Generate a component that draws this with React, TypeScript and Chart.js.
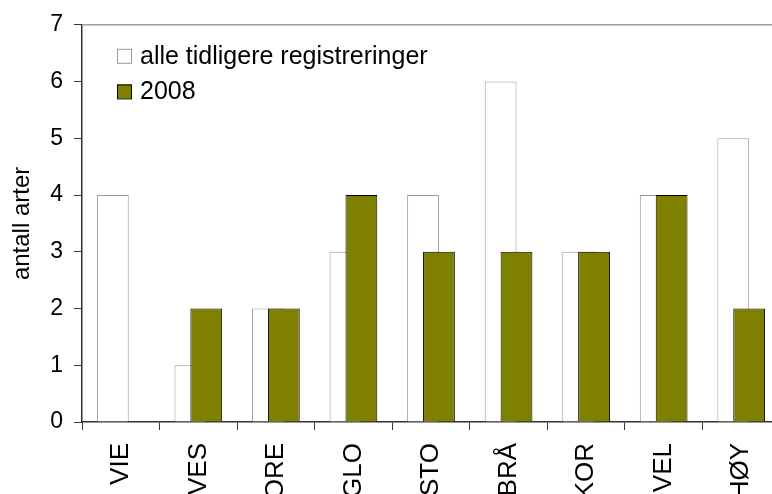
import React, { useEffect, useRef } from "react";
import { Chart, registerables } from "chart.js";

Chart.register(...registerables);

const categories = ["VIE", "VES", "ORE", "GLO", "STO", "BRÅ", "KOR", "VEL", "HØY"];
const allePrevious = [4, 1, 2, 3, 4, 6, 3, 4, 5];
const values2008 = [0, 2, 2, 4, 3, 3, 3, 4, 2];
const seriesLabels = ["alle tidligere registreringer", "2008"];
const yTitle = "antall arter";

const FONT = "'Liberation Sans', Arial, sans-serif";

// Draw the first dataset (left, white) before the second so the green bars overlap it
const drawOrderPlugin = {
  id: "drawOrder",
  beforeDatasetsDraw(chart: any) {
    const meta = chart.getDatasetMeta(0);
    if (meta && meta.controller) meta.controller.draw();
  },
  beforeDatasetDraw(chart: any, args: any) {
    if (args.index === 0) return false;
  },
};

const legendPlugin = {
  id: "insideLegend",
  afterDraw(chart: any) {
    const { ctx, chartArea } = chart;
    ctx.save();
    // plot-area top border
    ctx.strokeStyle = "#a0a0a0";
    ctx.lineWidth = 1.5;
    ctx.beginPath();
    ctx.moveTo(chartArea.left, chartArea.top);
    ctx.lineTo(chartArea.right, chartArea.top);
    ctx.stroke();
    const x = chartArea.left + 35;
    const y0 = chartArea.top + 24;
    chart.data.datasets.forEach((ds: any, i: number) => {
      const y = y0 + i * 35.6;
      ctx.fillStyle = ds.backgroundColor;
      ctx.fillRect(x, y, 14, 14);
      ctx.strokeStyle = ds.borderColor;
      ctx.lineWidth = 1;
      ctx.strokeRect(x + 0.5, y + 0.5, 14, 14);
      ctx.fillStyle = "#000";
      ctx.font = `25px ${FONT}`;
      ctx.textBaseline = "middle";
      ctx.textAlign = "left";
      ctx.fillText(ds.label, x + 23, y + 8);
    });
    ctx.restore();
  },
};

export default function App() {
  const ref = useRef<HTMLCanvasElement>(null);
  useEffect(() => {
    if (!ref.current) return;
    const chart = new Chart(ref.current, {
      type: "bar",
      data: {
        labels: categories,
        datasets: [
          {
            label: seriesLabels[0],
            data: allePrevious,
            backgroundColor: "#ffffff",
            borderColor: "#999999",
            borderWidth: 1,
            categoryPercentage: 0.41,
            barPercentage: 2,
          },
          {
            label: seriesLabels[1],
            data: values2008,
            backgroundColor: "#808000",
            borderColor: "#000000",
            borderWidth: 1,
            categoryPercentage: 0.41,
            barPercentage: 2,
          },
        ],
      },
      options: {
        responsive: false,
        animation: false,
        layout: { padding: { top: 18, right: 20, bottom: 0, left: 0 } },
        plugins: {
          legend: { display: false },
          tooltip: { enabled: false },
        },
        scales: {
          x: {
            grid: {
              drawOnChartArea: false,
              drawTicks: true,
              tickLength: 8,
              color: "#333333",
            },
            border: { display: true, color: "#333333", width: 1.5 },
            ticks: {
              color: "#000",
              font: { family: FONT, size: 26 },
              minRotation: 90,
              maxRotation: 90,
              padding: 13,
              autoSkip: false,
            },
            afterFit(scale: any) {
              scale.height = 72;
            },
          },
          y: {
            min: 0,
            max: 7,
            ticks: {
              stepSize: 1,
              color: "#000",
              font: { family: FONT, size: 23 },
              padding: 11,
            },
            grid: {
              drawOnChartArea: false,
              drawTicks: true,
              tickLength: 8,
              color: "#333333",
            },
            border: { display: true, color: "#333333", width: 1.5 },
            title: {
              display: true,
              text: yTitle,
              color: "#000",
              font: { family: FONT, size: 24 },
              padding: { top: 7.5, bottom: 0 },
            },
            afterFit(scale: any) {
              scale.width = 82;
            },
          },
        },
      },
      plugins: [drawOrderPlugin, legendPlugin],
    } as any);
    return () => chart.destroy();
  }, []);

  return (
    <div
      style={{
        position: "fixed",
        left: 0,
        top: 0,
        width: 772,
        height: 494,
        overflow: "hidden",
        background: "#fff",
      }}
    >
      <canvas ref={ref} width={800} height={494} style={{ display: "block" }} />
    </div>
  );
}
